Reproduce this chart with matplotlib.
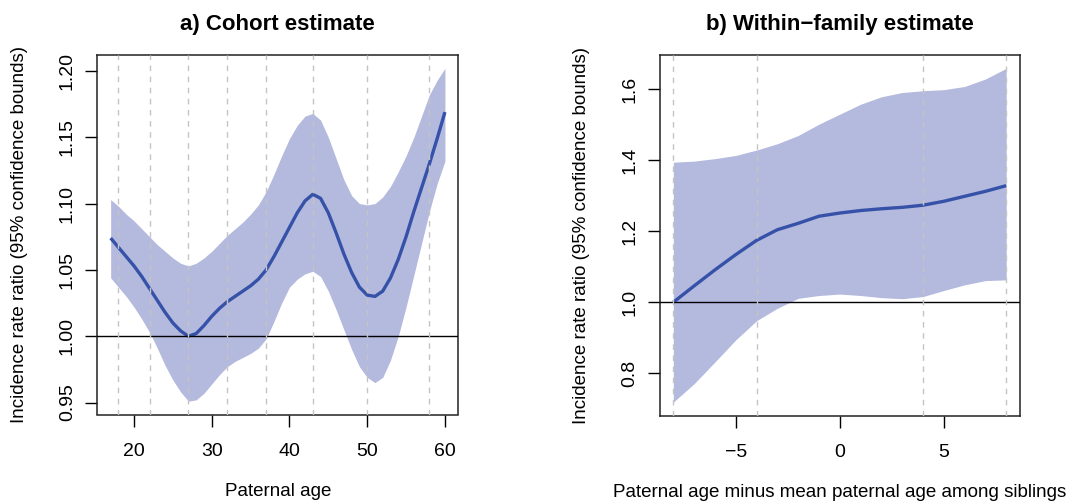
"""Paternal age and incidence rate ratio: cohort vs within-family spline estimates."""

import matplotlib
matplotlib.use('Agg')
import matplotlib.pyplot as plt
from matplotlib.ticker import FormatStrFormatter

BAND_COLOUR = '#b4b9de'
LINE_COLOUR = '#3652a8'
KNOT_COLOUR = '#c4c4c4'

plt.rcParams['font.family'] = ['Liberation Sans', 'DejaVu Sans']

# a) cohort estimate
cohort_age = list(range(17, 61))
cohort_irr = [1.074, 1.067, 1.060, 1.053, 1.045, 1.036, 1.027, 1.018, 1.010, 1.004,
              1.000, 1.002, 1.008, 1.015, 1.021, 1.026, 1.030, 1.034, 1.038, 1.043,
              1.050, 1.060, 1.071, 1.082, 1.093, 1.102, 1.107, 1.104, 1.093, 1.078,
              1.062, 1.048, 1.037, 1.031, 1.030, 1.034, 1.044, 1.058, 1.075, 1.094,
              1.112, 1.130, 1.149, 1.169]
cohort_upper = [1.103, 1.098, 1.092, 1.087, 1.081, 1.075, 1.069, 1.064, 1.059, 1.055,
                1.053, 1.055, 1.059, 1.064, 1.070, 1.076, 1.081, 1.086, 1.092, 1.099,
                1.109, 1.122, 1.136, 1.149, 1.159, 1.166, 1.168, 1.163, 1.150, 1.134,
                1.118, 1.106, 1.100, 1.099, 1.100, 1.105, 1.113, 1.124, 1.136, 1.150,
                1.166, 1.182, 1.193, 1.202]
cohort_lower = [1.044, 1.037, 1.030, 1.022, 1.013, 1.003, 0.991, 0.978, 0.967, 0.958,
                0.951, 0.952, 0.957, 0.964, 0.971, 0.977, 0.981, 0.984, 0.987, 0.991,
                0.998, 1.011, 1.025, 1.037, 1.043, 1.047, 1.049, 1.045, 1.034, 1.020,
                1.005, 0.990, 0.977, 0.969, 0.965, 0.969, 0.982, 1.000, 1.022, 1.046,
                1.070, 1.094, 1.115, 1.132]
cohort_knots = [18, 22, 27, 32, 37, 43, 50, 58]

# b) within-family estimate
sib_age = list(range(-8, 9))
sib_irr = [1.000, 1.046, 1.091, 1.134, 1.174, 1.204, 1.222, 1.242, 1.251, 1.258,
           1.263, 1.267, 1.273, 1.284, 1.298, 1.312, 1.328]
sib_upper = [1.394, 1.397, 1.404, 1.413, 1.428, 1.446, 1.469, 1.501, 1.529, 1.557,
             1.578, 1.590, 1.595, 1.598, 1.607, 1.628, 1.658]
sib_lower = [0.719, 0.771, 0.832, 0.894, 0.948, 0.983, 1.011, 1.019, 1.023, 1.019,
             1.013, 1.010, 1.016, 1.033, 1.049, 1.061, 1.063]
sib_knots = [-8, -4, 4, 8]

W, H = 1067, 503
fig = plt.figure(figsize=(W / 100, H / 100), dpi=100)
ax_a = fig.add_axes([97.3 / W, 1 - 414.5 / H, 361 / W, 359.5 / H])
ax_b = fig.add_axes([660 / W, 1 - 415.5 / H, 359.5 / W, 360.5 / H])


def draw_panel(ax, x, y, lo, hi, knots, title, xlabel, xticks, yticks, yfmt):
    ax.fill_between(x, lo, hi, color=BAND_COLOUR, linewidth=0, zorder=1)
    ax.plot(x, y, color=LINE_COLOUR, linewidth=2.4, solid_capstyle='butt', zorder=2)
    ax.axhline(1.0, color='black', linewidth=1.0, zorder=3)
    for k in knots:
        ax.axvline(k, color=KNOT_COLOUR, linewidth=1.0, linestyle=(0, (4, 4)), zorder=4)

    span_x = max(x) - min(x)
    ax.set_xlim(min(x) - 0.04 * span_x, max(x) + 0.04 * span_x)
    span_y = max(hi) - min(lo)
    ax.set_ylim(min(lo) - 0.04 * span_y, max(hi) + 0.04 * span_y)

    ax.set_xticks(xticks)
    ax.set_yticks(yticks)
    ax.yaxis.set_major_formatter(FormatStrFormatter(yfmt))
    ax.tick_params(axis='both', direction='out', length=8.5, width=1.0,
                   labelsize=14, colors='black')
    ax.tick_params(axis='x', pad=12)
    ax.tick_params(axis='y', pad=7)
    for lab in ax.get_yticklabels():
        lab.set_rotation(90)
        lab.set_va('center')

    for spine in ax.spines.values():
        spine.set_linewidth(1.1)
        spine.set_color('#222222')

    ax.set_title(title, fontsize=16, fontweight='bold', pad=18)

    bbox = ax.get_window_extent()
    ax.set_ylabel('Incidence rate ratio (95% confidence bounds)', fontsize=13.5)
    ax.yaxis.label.set_va('center')
    ax.yaxis.set_label_coords(-78 / bbox.width, 0.5)
    ax.set_xlabel(xlabel, fontsize=13.5)
    ax.xaxis.label.set_va('center')
    ax.xaxis.set_label_coords(0.5, -77 / bbox.height)


draw_panel(ax_a, cohort_age, cohort_irr, cohort_lower, cohort_upper, cohort_knots,
           'a) Cohort estimate', 'Paternal age',
           [20, 30, 40, 50, 60], [0.95, 1.00, 1.05, 1.10, 1.15, 1.20], '%.2f')
draw_panel(ax_b, sib_age, sib_irr, sib_lower, sib_upper, sib_knots,
           'b) Within\u2212family estimate',
           'Paternal age minus mean paternal age among siblings',
           [-5, 0, 5], [0.8, 1.0, 1.2, 1.4, 1.6], '%.1f')

fig.savefig('out.png', dpi=100)
